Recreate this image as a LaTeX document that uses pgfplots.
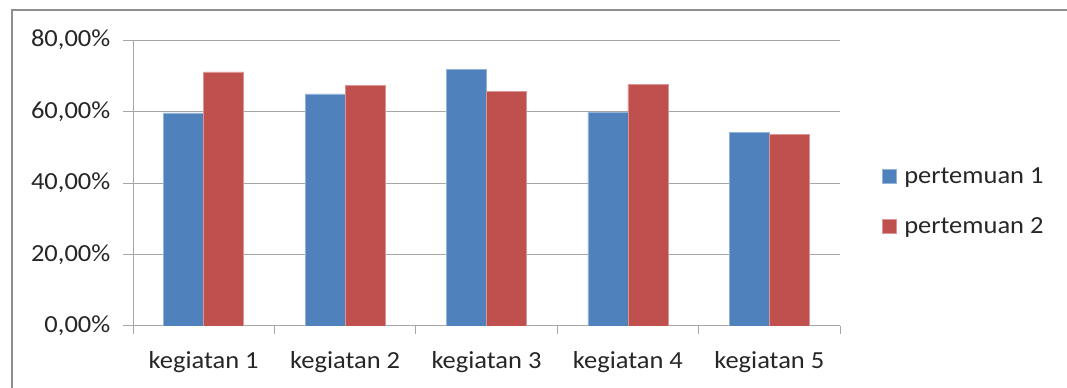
\documentclass[border=0pt]{standalone}
\usepackage{fontspec}
\setmainfont{Carlito}[FakeStretch=1.08]
\usepackage{pgfplots}
\pgfplotsset{compat=1.18}
\definecolor{cblue}{HTML}{4F81BD}
\definecolor{cred}{HTML}{C0504D}
\definecolor{gridc}{HTML}{A6A6A6}
\definecolor{framec}{HTML}{8E8E8E}
\begin{document}
\begin{tikzpicture}
\useasboundingbox (0pt,0pt) rectangle (800.25pt,291pt);
\draw[framec, line width=1.5pt] (9pt,0pt) -- (9pt,283.5pt) -- (800.25pt,283.5pt);
\begin{axis}[at={(99.75pt,46.5pt)}, anchor=south west, scale only axis,
  width=530.25pt, height=214.5pt,
  ybar=0pt, bar width=30pt,
  xmin=0.5, xmax=5.5, ymin=0, ymax=80,
  xtick={1,2,3,4,5},
  xticklabels={kegiatan 1,kegiatan 2,kegiatan 3,kegiatan 4,kegiatan 5},
  major x tick style={draw=none},
  minor xtick={0.5,1.5,2.5,3.5,4.5,5.5},
  ytick={0,20,40,60,80},
  yticklabels={{0,00\%},{20,00\%},{40,00\%},{60,00\%},{80,00\%}},
  ymajorgrids, grid style={gridc, line width=0.75pt},
  axis x line*=bottom, axis y line*=left,
  axis line style={gridc, line width=0.75pt, -},
  tick style={gridc, line width=0.75pt},
  tick align=outside, major tick length=7.5pt, minor tick length=6pt,
  ticklabel style={font=\fontsize{18.4}{21}\selectfont, text=black!85},
  yticklabel style={xshift=-6pt},
  xticklabel style={yshift=-8pt},
  legend style={at={(axis description cs:1.053,0.435)}, anchor=west, draw=none, fill=none,
    font=\fontsize{18.4}{21}\selectfont, text=black!85, row sep=18pt,
    nodes={inner sep=3pt},
    /tikz/every odd column/.append style={column sep=3pt}},
  legend cell align=left,
  legend image code/.code={\fill[#1] (0pt,-5.25pt) rectangle (10.5pt,5.25pt);},
]
\addplot[fill=cblue, draw=cblue!60!white, line width=0.4pt] coordinates {(1,59.6) (2,64.9) (3,71.8) (4,59.7) (5,54.2)};
\addplot[fill=cred, draw=cred!60!white, line width=0.4pt] coordinates {(1,71.1) (2,67.4) (3,65.6) (4,67.6) (5,53.5)};
\legend{pertemuan 1, pertemuan 2}
\end{axis}
\end{tikzpicture}
\end{document}
